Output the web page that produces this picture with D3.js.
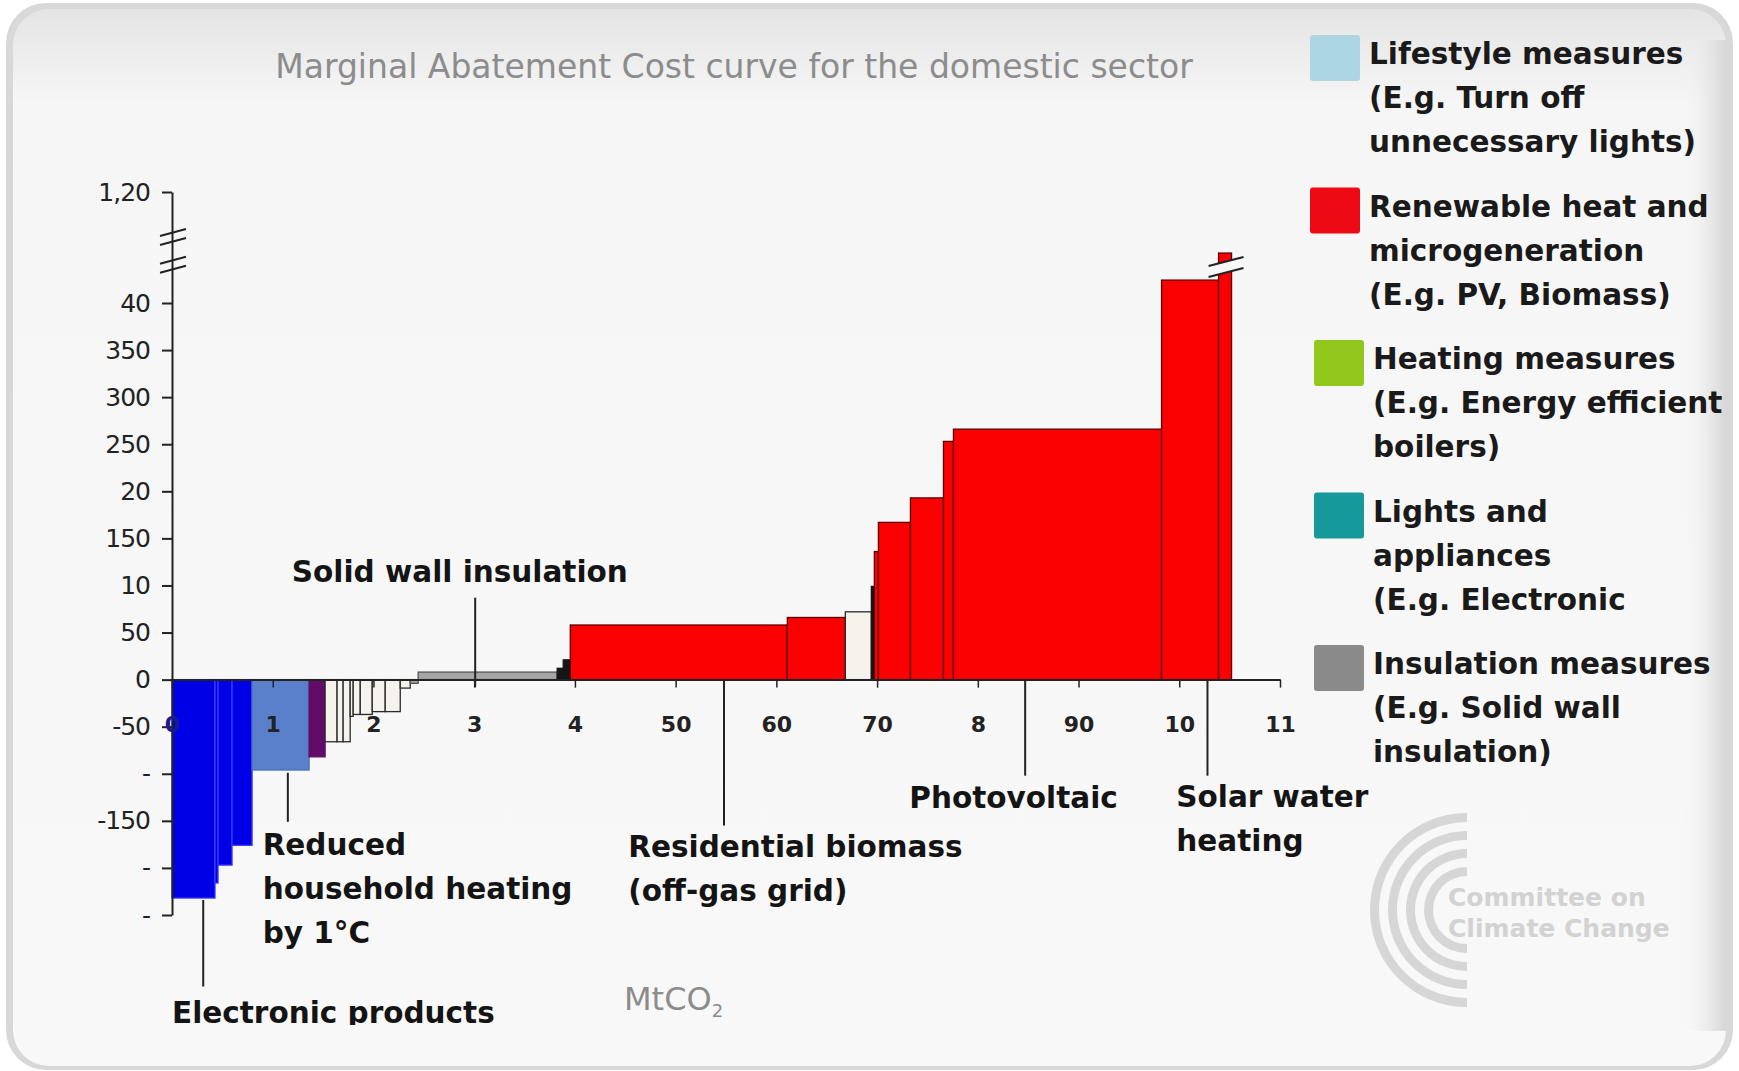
<!DOCTYPE html>
<html>
<head>
<meta charset="utf-8">
<script src="https://cdn.jsdelivr.net/npm/d3@7"></script>
<style>
  body { margin: 0; background: #ffffff; }
  svg { display: block; }
</style>
</head>
<body>
<div id="chart"></div>
<script>
// ---- data ----
// width of each measure along the x axis (axis units) and its cost
var barWidths = [0.427, 0.030, 0.139, 0.199, 0.566, 0.159, 0.119, 0.060, 0.070, 0.030,
                 0.070, 0.119, 0.129, 0.149, 0.099, 0.079, 1.380, 0.060, 0.070, 2.155,
                 0.576, 0.258, 0.030, 0.040, 0.318, 0.328, 0.099, 2.066, 0.566, 0.129];
var barCosts = [-232, -216, -197, -176, -96, -82, -66, -66, -66, -39,
                -37, -37, -34, -34, -9, -4, 8, 12, 21, 58,
                66, 72, 99, 136, 167, 193, 253, 266, 565, 760];
var barGroups = ["electronics", "electronics", "electronics", "electronics", "heatingLow", "purple",
                 "other", "other", "other", "other", "other", "other", "other", "other", "other",
                 "insulation", "insulation", "dark", "dark", "renewable", "renewable", "other", "dark",
                 "renewable", "renewable", "renewable", "renewable", "renewable", "renewable", "renewable"];

var xTickValues = [0, 1, 2, 3, 4, 5, 6, 7, 8, 9, 10, 11];
var xTickLabels = ["0", "1", "2", "3", "4", "50", "60", "70", "8", "90", "10", "11"];
var yTickValues = [-250, -200, -150, -100, -50, 0, 50, 100, 150, 200, 250, 300, 350, 400, 1200];
var yTickLabels = ["-", "-", "-150", "-", "-50", "0", "50", "10", "150", "20", "250", "300", "350", "40", "1,20"];

// annotations: leader line at x (axis units) from cost y1 to y2, text anchored at tx / ty
var annoNames = ["Solid wall insulation", "Reduced household heating by 1°C", "Electronic products",
                 "Residential biomass (off-gas grid)", "Photovoltaic", "Solar water heating"];
var annoLines = [["Solid wall insulation"], ["Reduced", "household heating", "by 1°C"], ["Electronic products"],
                 ["Residential biomass", "(off-gas grid)"], ["Photovoltaic"], ["Solar water", "heating"]];
var annoX = [3.01, 1.15, 0.31, 5.48, 8.47, 10.28];
var annoY1 = [87, -99, -234, 0, 0, 0];
var annoY2 = [-8, -151, -326, -155, -102, -102];
var annoTextX = [1.19, 0.90, 0.0, 4.53, 7.32, 9.97];
var annoTextY = [104, -186, -365, -188, -136, -135];

var legendLabels = [["Lifestyle measures", "(E.g. Turn off", "unnecessary lights)"],
                    ["Renewable heat and", "microgeneration", "(E.g. PV, Biomass)"],
                    ["Heating measures", "(E.g. Energy efficient", "boilers)"],
                    ["Lights and", "appliances", "(E.g. Electronic"],
                    ["Insulation measures", "(E.g. Solid wall", "insulation)"]];
var legendColors = ["#acd6e2", "#ee0a14", "#92c81c", "#15999b", "#8a8a8a"];

// ---- styles ----
var fillFor = {
    electronics: "#0000e6", heatingLow: "#5a80cc", purple: "#600c68", other: "#f5f3ec",
    insulation: "#a5a5a5", dark: "#151515", renewable: "#fa0000"
};
var strokeFor = {
    electronics: "#3a3aff", heatingLow: "#4a70bb", purple: "#600c68", other: "#2a2a2a",
    insulation: "#555", dark: "#151515", renewable: "#5a0000"
};

var W = 1739, H = 1071;
var textFont = "DejaVu Sans";

var svg = d3.select("#chart").append("svg")
    .attr("width", W)
    .attr("height", H);

/* panel background */
var defs = svg.append("defs");
var grad = defs.append("linearGradient").attr("id", "panelGrad")
    .attr("x1", 0).attr("y1", 0).attr("x2", 0).attr("y2", 1);
grad.append("stop").attr("offset", "0%").attr("stop-color", "#e4e4e4");
grad.append("stop").attr("offset", "9%").attr("stop-color", "#f6f6f6");
grad.append("stop").attr("offset", "100%").attr("stop-color", "#f8f8f8");
var side = defs.append("linearGradient").attr("id", "sideGrad")
    .attr("x1", 0).attr("y1", 0).attr("x2", 1).attr("y2", 0);
side.append("stop").attr("offset", "0%").attr("stop-color", "#f8f8f8").attr("stop-opacity", 0);
side.append("stop").attr("offset", "100%").attr("stop-color", "#d6d6d6");

svg.append("rect").attr("x", 6).attr("y", 3).attr("width", W - 12).attr("height", H - 4)
    .attr("rx", 40).attr("fill", "#d8d8d8");
svg.append("rect").attr("x", 13).attr("y", 9).attr("width", W - 26).attr("height", H - 14)
    .attr("rx", 36).attr("fill", "url(#panelGrad)");
svg.append("rect").attr("x", W - 60).attr("y", 40).attr("width", 47).attr("height", H - 80)
    .attr("fill", "url(#sideGrad)");

/* scales */
var x = d3.scaleLinear().domain([0, 11]).range([172, 1280]);
var y = d3.scaleLinear().domain([-250, 400, 1200]).range([915, 303, 192]);

/* title */
svg.append("text")
    .attr("x", 734).attr("y", 78)
    .attr("text-anchor", "middle")
    .style("font-family", textFont).style("font-size", "33px")
    .style("fill", "#8c8c8c")
    .text("Marginal Abatement Cost curve for the domestic sector");

/* logo (Committee on Climate Change) */
var logo = svg.append("g").attr("transform", "translate(1467,910)");
[97, 79, 61, 43].forEach(function(r) {
    logo.append("path")
        .attr("d", d3.arc()({innerRadius: r - 9, outerRadius: r, startAngle: Math.PI, endAngle: 2 * Math.PI}))
        .attr("fill", "#d6d6d6");
});
logo.append("text").attr("x", -19).attr("y", -4)
    .style("font-family", textFont).style("font-weight", "bold").style("font-size", "25px")
    .style("fill", "#d2d2d2").text("Committee on");
logo.append("text").attr("x", -19).attr("y", 27)
    .style("font-family", textFont).style("font-weight", "bold").style("font-size", "25px")
    .style("fill", "#d2d2d2").text("Climate Change");

/* bars */
var starts = [0];
for (var i = 0; i < barWidths.length - 1; i++) starts.push(starts[i] + barWidths[i]);

var bars = barWidths.map(function(w, i) {
    return {x0: starts[i], x1: starts[i] + w, cost: barCosts[i], group: barGroups[i]};
});

svg.append("g").attr("class", "bars")
    .selectAll("rect")
    .data(bars).enter()
    .append("rect")
    .attr("x", d => x(d.x0))
    .attr("width", d => x(d.x1) - x(d.x0))
    .attr("y", d => Math.min(y(d.cost), y(0)))
    .attr("height", d => Math.abs(y(d.cost) - y(0)))
    .style("fill", d => fillFor[d.group])
    .style("stroke", d => strokeFor[d.group])
    .style("stroke-width", 1.3);

/* break marks on the tallest bar */
var tall = bars[bars.length - 1];
var bx0 = x(tall.x0) - 10, bx1 = x(tall.x1) + 12, by = y(tall.cost) + 9;
svg.append("path")
    .attr("d", `M${bx0},${by + 4} L${bx1},${by - 5} L${bx1},${by + 6} L${bx0},${by + 15} Z`)
    .style("fill", "#f8f8f8");
svg.append("path")
    .attr("d", `M${bx0},${by + 4} L${bx1},${by - 5} M${bx0},${by + 15} L${bx1},${by + 6}`)
    .style("stroke", "#222").style("stroke-width", 2).style("fill", "none");

/* axes */
var yAxis = d3.axisLeft(y)
    .tickValues(yTickValues)
    .tickFormat((d, i) => yTickLabels[i])
    .tickSize(10).tickSizeOuter(0).tickPadding(12);

var gy = svg.append("g")
    .attr("class", "y axis")
    .attr("transform", `translate(${x(0)},0)`)
    .call(yAxis);
gy.select(".domain").style("stroke", "#222").style("stroke-width", 2);
gy.selectAll(".tick line").style("stroke", "#222").style("stroke-width", 2);
gy.selectAll(".tick text")
    .style("font-family", textFont).style("font-size", "25px").style("fill", "#222")
    .style("letter-spacing", "-1px");

/* y axis break: four slanted strokes across the axis */
var yb0 = y(1200) + 0.37 * (y(400) - y(1200));
var yb1 = y(1200) + 0.62 * (y(400) - y(1200));
var ybreak = svg.append("g").attr("class", "ybreak");
[yb0, yb0 + 9, yb1, yb1 + 9].forEach(function(v) {
    ybreak.append("line")
        .attr("x1", x(0) - 12).attr("y1", v + 3)
        .attr("x2", x(0) + 14).attr("y2", v - 4)
        .style("stroke", "#222").style("stroke-width", 2);
});

var xAxis = d3.axisBottom(x)
    .tickValues(xTickValues)
    .tickFormat((d, i) => xTickLabels[i])
    .tickSize(8).tickSizeOuter(0);

var gx = svg.append("g")
    .attr("class", "x axis")
    .attr("transform", `translate(0,${y(0)})`)
    .call(xAxis);
gx.select(".domain").style("stroke", "#222").style("stroke-width", 2);
gx.selectAll(".tick line").style("stroke", "#222").style("stroke-width", 1.5);
gx.selectAll(".tick text")
    .attr("y", 52).attr("dy", 0)
    .style("font-family", textFont).style("font-weight", "bold").style("font-size", "22px")
    .style("fill", (d, i) => i == 0 ? "#1a1a90" : "#222");

/* x axis unit */
var unit = svg.append("text")
    .attr("x", 624).attr("y", 1010)
    .style("font-family", textFont).style("font-size", "32px").style("fill", "#8c8c8c");
unit.append("tspan").text("MtCO");
unit.append("tspan").attr("dy", 7).style("font-size", "18px").text("2");

/* annotations */
defs.append("clipPath").attr("id", "annoClip")
    .append("rect").attr("x", 0).attr("y", 0).attr("width", W).attr("height", 1025);

var annos = svg.append("g").attr("class", "annotations").attr("clip-path", "url(#annoClip)");
annoNames.forEach(function(name, i) {
    annos.append("line")
        .attr("x1", x(annoX[i])).attr("x2", x(annoX[i]))
        .attr("y1", y(annoY1[i])).attr("y2", y(annoY2[i]))
        .style("stroke", "#222").style("stroke-width", 2);
    var t = annos.append("text")
        .attr("x", x(annoTextX[i])).attr("y", y(annoTextY[i]))
        .style("font-family", textFont).style("font-weight", "bold").style("font-size", "29.5px")
        .style("fill", "#141414");
    annoLines[i].forEach(function(line, j) {
        t.append("tspan").attr("x", x(annoTextX[i])).attr("dy", j == 0 ? 0 : 44).text(line);
    });
});

/* legend */
var legend = svg.append("g").attr("class", "legend").attr("transform", "translate(1310,64)");
legendLabels.forEach(function(lines, i) {
    var dx = i < 2 ? 0 : 4;
    var item = legend.append("g").attr("transform", `translate(${dx},${i * 152.5})`);
    item.append("rect")
        .attr("x", 0).attr("y", -29).attr("width", 50).attr("height", 46)
        .attr("rx", 3)
        .style("fill", legendColors[i]);
    var t = item.append("text")
        .attr("x", 59).attr("y", 0)
        .style("font-family", textFont).style("font-weight", "bold").style("font-size", "29.5px")
        .style("fill", "#1a1a1a");
    lines.forEach(function(line, j) {
        t.append("tspan").attr("x", 59).attr("dy", j == 0 ? 0 : 44).text(line);
    });
});
</script>
</body>
</html>
